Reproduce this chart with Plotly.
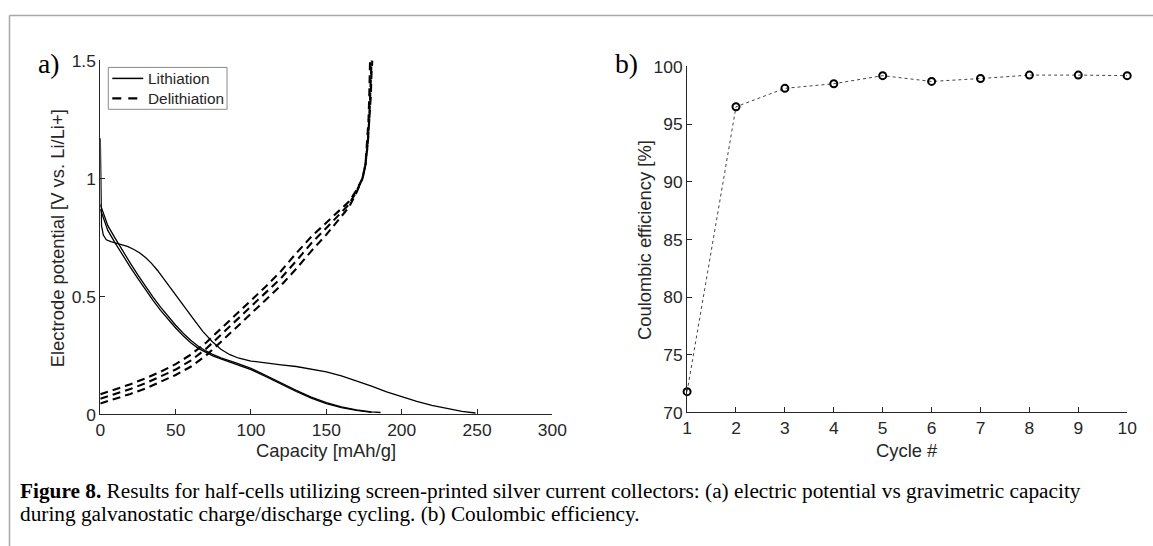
import plotly.graph_objects as go

# ---------------- data: panel a) ----------------
# Lithiation (solid) curves, cycles 1-3
lith1_x = [0, 0.3, 0.8, 2, 4, 7, 10, 14, 18, 22, 26, 30, 34, 38, 44, 50, 56, 62, 68, 74, 80, 86, 92, 100,
           110, 120, 130, 140, 150, 160, 170, 180, 190, 200, 210, 220, 230, 240, 249]
lith1_y = [1.17, 0.95, 0.80, 0.76, 0.74, 0.732, 0.727, 0.72, 0.712, 0.70, 0.685, 0.665, 0.64, 0.61, 0.56, 0.508,
           0.455, 0.403, 0.352, 0.31, 0.276, 0.253, 0.238, 0.226, 0.217, 0.21, 0.203, 0.192, 0.18, 0.163,
           0.143, 0.12, 0.096, 0.075, 0.055, 0.038, 0.024, 0.013, 0.006]
lith2_x = [0, 2, 5, 10, 15, 20, 25, 30, 35, 40, 45, 50, 55, 60, 65, 70, 75, 80, 90, 100, 110, 120,
           130, 140, 150, 160, 170, 180, 186]
lith2_y = [0.89, 0.85, 0.80, 0.745, 0.69, 0.64, 0.59, 0.543, 0.497, 0.455, 0.415, 0.378, 0.344, 0.314,
           0.289, 0.269, 0.253, 0.24, 0.218, 0.195, 0.165, 0.133, 0.102, 0.073, 0.05, 0.032, 0.019, 0.011, 0.008]
lith3_x = [0, 2, 5, 10, 15, 20, 25, 30, 35, 40, 45, 50, 55, 60, 65, 70, 75, 80, 90, 100, 110, 120,
           130, 140, 150, 160, 170, 180]
lith3_y = [0.87, 0.83, 0.78, 0.725, 0.672, 0.623, 0.575, 0.528, 0.483, 0.441, 0.402, 0.366, 0.333, 0.304,
           0.28, 0.262, 0.247, 0.235, 0.213, 0.19, 0.16, 0.128, 0.097, 0.069, 0.046, 0.029, 0.017, 0.009]

# Delithiation (dashed) curves, cycles 1-3
delith1_x = [0, 10, 20, 30, 40, 50, 60, 70, 80, 90, 100, 110, 120, 130, 140, 150, 160, 165, 170, 174,
             176, 177, 178, 178.5, 179, 179]
delith1_y = [0.085, 0.105, 0.128, 0.153, 0.181, 0.213, 0.253, 0.303, 0.363, 0.423, 0.483, 0.543, 0.608, 0.683,
             0.753, 0.813, 0.872, 0.902, 0.95, 1.0, 1.06, 1.15, 1.25, 1.35, 1.45, 1.5]
delith2_x = [0, 10, 20, 30, 40, 50, 60, 70, 80, 90, 100, 110, 120, 130, 140, 150, 160, 165, 170, 174,
             176, 177.5, 178.5, 179, 179.5, 180]
delith2_y = [0.066, 0.086, 0.108, 0.132, 0.16, 0.19, 0.228, 0.277, 0.337, 0.397, 0.456, 0.515, 0.578, 0.65,
             0.725, 0.79, 0.855, 0.89, 0.945, 1.0, 1.06, 1.15, 1.25, 1.35, 1.45, 1.5]
delith3_x = [0, 10, 20, 30, 40, 50, 60, 70, 80, 90, 100, 110, 120, 130, 140, 150, 160, 165, 170, 174,
             176, 177.5, 178.5, 179.5, 180, 180.5]
delith3_y = [0.046, 0.066, 0.087, 0.11, 0.137, 0.167, 0.202, 0.249, 0.307, 0.367, 0.427, 0.487, 0.547, 0.617,
             0.692, 0.762, 0.838, 0.878, 0.94, 1.0, 1.06, 1.15, 1.25, 1.35, 1.45, 1.5]

series_names = ["Lithiation", "Delithiation"]
cap_ticks = [0, 50, 100, 150, 200, 250, 300]
pot_ticks = [0, 0.5, 1, 1.5]
pot_labels = ["0", "0.5", "1", "1.5"]

# ---------------- data: panel b) ----------------
cycles = [1, 2, 3, 4, 5, 6, 7, 8, 9, 10]
efficiency = [71.8, 96.5, 98.1, 98.5, 99.2, 98.7, 98.95, 99.25, 99.25, 99.2]
eff_ticks = [70, 75, 80, 85, 90, 95, 100]

# ---- layout geometry: target picture coordinates -> page coordinates ----
SX, AXO = 0.985, 4.5     # observed picture = AXO + SX * page  (horizontal)
SY, AYO = 0.9675, 7.4    # observed picture = AYO + SY * page  (vertical)
FS = 1 / 0.976           # font compensation
W, H = 1175, 566
def px(r):
    return ((r - AXO) / SX) / W
def py(r):
    return 1 - ((r - AYO) / SY) / H
def f(s):
    return round(s * FS, 1)

AX = "#262626"
SANS = "Liberation Sans, Arial, sans-serif"
SERIF = "Liberation Serif, Times New Roman, serif"

fig = go.Figure()

for xs, ys in [(lith1_x, lith1_y), (lith2_x, lith2_y), (lith3_x, lith3_y)]:
    fig.add_trace(go.Scatter(x=xs, y=ys, mode="lines", name=series_names[0], showlegend=False,
                             line=dict(color="black", width=1.3), xaxis="x", yaxis="y"))
for xs, ys in [(delith1_x, delith1_y), (delith2_x, delith2_y), (delith3_x, delith3_y)]:
    fig.add_trace(go.Scatter(x=xs, y=ys, mode="lines", name=series_names[1], showlegend=False,
                             line=dict(color="black", width=2.1, dash="8px,5px"), xaxis="x", yaxis="y"))

fig.add_trace(go.Scatter(x=cycles, y=efficiency, mode="lines+markers", showlegend=False,
                         line=dict(color="#444", width=1, dash="dot"),
                         marker=dict(symbol="circle-open", size=7, color="black", line=dict(width=2, color="black")),
                         xaxis="x2", yaxis="y2", cliponaxis=False))

axis_common = dict(showgrid=False, zeroline=False, showline=True, linecolor=AX, linewidth=1,
                   ticks="inside", ticklen=5, tickcolor=AX, tickwidth=1,
                   tickfont=dict(family=SANS, size=f(17), color=AX), mirror=False, fixedrange=True)

fig.update_layout(
    width=W, height=H, margin=dict(l=0, r=0, t=0, b=0), autosize=False,
    paper_bgcolor="white", plot_bgcolor="white", showlegend=False,
    xaxis=dict(domain=[px(100), px(553)], range=[0, 300], tickvals=cap_ticks, anchor="y", **axis_common),
    yaxis=dict(domain=[py(413), py(58)], range=[0, 1.5], tickvals=pot_ticks, ticktext=pot_labels,
               anchor="x", **axis_common),
    xaxis2=dict(domain=[px(688), px(1129)], range=[1, 10], tickvals=cycles, anchor="y2", **axis_common),
    yaxis2=dict(domain=[py(411), py(64)], range=[70, 100], tickvals=eff_ticks, anchor="x2", **axis_common),
)

ann = []
def add_text(text, x, y, size, family=SANS, xanchor="center", yanchor="middle", angle=0, color=AX):
    ann.append(dict(text=text, x=px(x), y=py(y), xref="paper", yref="paper", showarrow=False,
                    xanchor=xanchor, yanchor=yanchor, textangle=angle,
                    font=dict(family=family, size=f(size), color=color)))

add_text("a)", 36, 61, 27, family=SERIF, xanchor="left", color="black")
add_text("b)", 614, 61, 27, family=SERIF, xanchor="left", color="black")
add_text("Electrode potential [V vs. Li/Li+]", 58, 236, 18, angle=-90)
add_text("Capacity [mAh/g]", 326, 449, 18)
add_text("Coulombic efficiency [%]", 646, 238, 18, angle=-90)
add_text("Cycle #", 908, 449, 18)
# legend entries
add_text(series_names[0], 146, 76, 15, xanchor="left")
add_text(series_names[1], 146, 96, 15, xanchor="left")
add_text("<b>Figure 8.</b> Results for half-cells utilizing screen-printed silver current collectors: (a) electric potential vs gravimetric capacity",
         18, 490, 20.8, family=SERIF, xanchor="left", color="black")
add_text("during galvanostatic charge/discharge cycling. (b) Coulombic efficiency.",
         18, 513, 20.8, family=SERIF, xanchor="left", color="black")
fig.update_layout(annotations=ann)

shapes = [
    # figure frame (top and left border lines)
    dict(type="line", xref="paper", yref="paper", x0=px(9), x1=1, y0=py(13), y1=py(13),
         line=dict(color="#a8a8a8", width=1.5)),
    dict(type="line", xref="paper", yref="paper", x0=px(9), x1=px(9), y0=py(13), y1=0,
         line=dict(color="#a8a8a8", width=1.5)),
    # legend box and samples
    dict(type="rect", xref="paper", yref="paper", x0=px(108), x1=px(227), y0=py(107), y1=py(65),
         line=dict(color="#8a8a8a", width=1), fillcolor="white", layer="above"),
    dict(type="line", xref="paper", yref="paper", x0=px(112), x1=px(143), y0=py(76), y1=py(76),
         line=dict(color="black", width=1.5), layer="above"),
    dict(type="line", xref="paper", yref="paper", x0=px(112), x1=px(138), y0=py(96), y1=py(96),
         line=dict(color="black", width=2.1, dash="9px,7px"), layer="above"),
]
fig.update_layout(shapes=shapes)

fig.write_html("out.html", config={"displayModeBar": False},
               post_script="document.body.style.margin='0';document.body.style.overflow='hidden';")
